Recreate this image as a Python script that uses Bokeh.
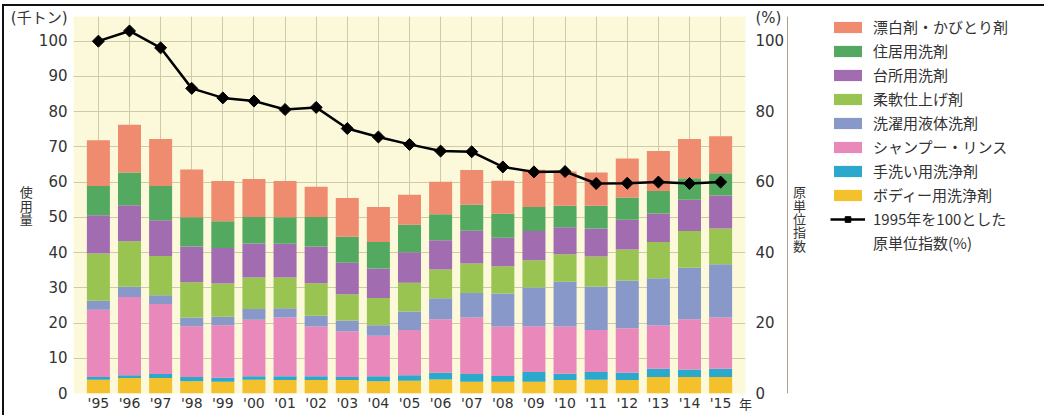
from bokeh.plotting import figure
from bokeh.models import (FactorRange, Range1d, LinearAxis, Legend, LegendItem, Label,
                          FixedTicker, ColumnDataSource)
from bokeh.layouts import row
from bokeh.embed import file_html
from bokeh.resources import INLINE

# ---------------- data ----------------
years = ["'95", "'96", "'97", "'98", "'99", "'00", "'01", "'02", "'03", "'04", "'05",
         "'06", "'07", "'08", "'09", "'10", "'11", "'12", "'13", "'14", "'15"]

body_wash = [3.9, 4.4, 4.4, 3.5, 3.3, 3.9, 3.8, 3.8, 3.8, 3.5, 3.6,
             4.0, 3.3, 3.3, 3.3, 3.8, 3.9, 3.8, 4.7, 4.7, 4.7]
hand_wash = [0.8, 0.8, 1.1, 1.2, 1.2, 1.0, 1.1, 1.1, 0.9, 1.4, 1.6,
             1.9, 2.2, 1.7, 2.8, 1.8, 2.2, 2.1, 2.3, 2.1, 2.3]
shampoo = [19.1, 22.2, 19.9, 14.4, 14.9, 16.0, 16.7, 14.1, 13.0, 11.5, 12.8,
           15.2, 16.1, 14.0, 13.0, 13.4, 11.9, 12.6, 12.3, 14.3, 14.6]
liquid_laundry = [2.5, 2.9, 2.5, 2.5, 2.4, 3.1, 2.6, 3.1, 3.0, 3.0, 5.3,
                  5.9, 6.9, 9.4, 11.0, 12.7, 12.4, 13.6, 13.4, 14.6, 15.1]
softener = [13.4, 12.9, 11.1, 10.0, 9.4, 8.9, 8.7, 9.2, 7.5, 7.7, 8.1,
            8.2, 8.4, 7.7, 7.7, 7.8, 8.5, 8.8, 10.3, 10.4, 10.1]
kitchen = [10.9, 10.2, 10.2, 10.1, 10.1, 9.7, 9.6, 10.4, 8.9, 8.4, 8.7,
           8.3, 9.3, 8.1, 8.3, 7.7, 7.9, 8.4, 8.1, 8.9, 9.4]
household = [8.3, 9.3, 9.7, 8.3, 7.6, 7.5, 7.5, 8.4, 7.4, 7.5, 7.8,
             7.4, 7.4, 6.8, 6.8, 6.1, 6.5, 6.3, 6.4, 6.1, 6.3]
bleach = [13.0, 13.6, 13.3, 13.6, 11.4, 10.8, 10.3, 8.6, 11.0, 9.9, 8.5,
          9.2, 9.8, 9.4, 10.6, 9.7, 9.4, 11.1, 11.3, 11.1, 10.5]

unit_index = [100, 102.9, 98.1, 86.6, 83.9, 83.0, 80.6, 81.2, 75.2, 72.8, 70.7,
              68.8, 68.6, 64.3, 62.9, 63.0, 59.6, 59.7, 60.0, 59.6, 60.0]

series_names = ["ボディー用洗浄剤", "手洗い用洗浄剤", "シャンプー・リンス", "洗濯用液体洗剤",
                "柔軟仕上げ剤", "台所用洗剤", "住居用洗剤", "漂白剤・かびとり剤"]
line_name_1 = "1995年を100とした"
line_name_2 = "原単位指数(%)"

left_ticks = [0, 10, 20, 30, 40, 50, 60, 70, 80, 90, 100]
right_ticks = [0, 20, 40, 60, 80, 100]
left_unit = "(千トン)"
right_unit = "(%)"
year_unit = "年"
left_title = "使\n用\n量"
right_title = "原\n単\n位\n指\n数"

# ---------------- styling ----------------
colors = ["#F4C12C", "#2BA9CC", "#E888BB", "#8898C8",
          "#99C452", "#A16CB0", "#53A95F", "#EF8B6F"]
keys = ["body", "hand", "shampoo", "liquid", "soft", "kitchen", "house", "bleach"]
FONT_NUM = "DejaVu Sans"
FONT_MIX = "DejaVu Sans, Noto Sans CJK JP"
FONT_JP = "Noto Sans CJK JP"
TXT = "#333333"
GRID = "#CFCAA8"
UNIT_POS = 106.6   # vertical position of the unit captions (axis units)
H = 409

src = ColumnDataSource(dict(year=years, body=body_wash, hand=hand_wash, shampoo=shampoo,
                            liquid=liquid_laundry, soft=softener, kitchen=kitchen,
                            house=household, bleach=bleach, idx=unit_index))

# ================= main chart =================
p = figure(x_range=FactorRange(factors=years, range_padding=0.3, range_padding_units="absolute"),
           y_range=Range1d(0, 107),
           width=783, height=H,
           min_border_left=69, min_border_right=40, min_border_top=10, min_border_bottom=22,
           output_backend="svg", toolbar_location=None,
           background_fill_color="#FCF9DB", border_fill_color="white",
           outline_line_color=None)

p.extra_y_ranges = {"idx": Range1d(0, 107)}

bars = p.vbar_stack(keys, x="year", width=0.74, color=colors, line_color=None, source=src)
ln = p.line("year", "idx", y_range_name="idx", source=src, line_color="black", line_width=2.5)
mk = p.scatter("year", "idx", y_range_name="idx", source=src, marker="square", angle=0.785,
               size=8.5, fill_color="black", line_color="black")

# axes (unit captions are extra labelled ticks above the top gridline)
p.yaxis.ticker = FixedTicker(ticks=left_ticks + [UNIT_POS])
p.yaxis.major_label_overrides = {UNIT_POS: left_unit}
p.ygrid.ticker = FixedTicker(ticks=left_ticks)
ax_r = LinearAxis(y_range_name="idx", ticker=FixedTicker(ticks=right_ticks + [UNIT_POS]),
                  major_label_overrides={UNIT_POS: right_unit})
p.add_layout(ax_r, "right")

for ax in [p.xaxis[0], p.yaxis[0], ax_r]:
    ax.axis_line_color = None
    ax.major_tick_line_color = None
    ax.minor_tick_line_color = None
    ax.major_tick_out = 0
    ax.major_tick_in = 0
    ax.minor_tick_out = 0
    ax.major_label_text_font = FONT_NUM
    ax.major_label_text_font_size = "15px"
    ax.major_label_text_color = TXT
    ax.axis_label_text_font = FONT_JP
    ax.axis_label_text_font_style = "normal"
    ax.axis_label_text_color = TXT
    ax.axis_label_text_font_size = "13px"
    ax.axis_label_text_line_height = 0.7
p.yaxis[0].major_label_text_font = FONT_MIX
p.yaxis[0].major_label_standoff = 6
ax_r.major_label_standoff = 10
p.xaxis[0].major_label_standoff = 1
p.xaxis[0].major_label_text_font_size = "14px"

p.yaxis[0].axis_label = left_title
p.yaxis[0].axis_label_orientation = "horizontal"
p.yaxis[0].axis_label_standoff = -25

p.xaxis[0].axis_label = year_unit
p.xaxis[0].axis_label_standoff = -20
p.xaxis[0].axis_label_align = "end"

p.xgrid.grid_line_color = GRID
p.ygrid.grid_line_color = GRID
p.xgrid.grid_line_width = 1
p.ygrid.grid_line_width = 1

# ================= legend panel (own figure, so nothing is clipped) =================
lf = figure(width=1040 - 783, height=H, x_range=Range1d(0, 1), y_range=Range1d(0, 1),
            x_axis_location=None, y_axis_location=None,
            min_border_left=0, min_border_right=0, min_border_top=0, min_border_bottom=0,
            output_backend="svg", toolbar_location=None,
            background_fill_color="white", border_fill_color="white", outline_line_color=None)
lf.grid.visible = False

# legend-key carriers: one point each, placed outside the visible range of this panel
OFF = [-10]
sw = [lf.vbar(x=OFF, top=[1], width=0.5, color=c, line_color=None) for c in colors]
lg_line = lf.line(x=[-10, -9], y=[0, 0], line_color="black", line_width=2.5)
lg_mark = lf.scatter(x=OFF, y=[0], marker="square", angle=0.785, size=8.5,
                     fill_color="black", line_color="black")
lg_ghost = lf.line(x=[-10, -9], y=[0, 0], line_alpha=0)

items = [LegendItem(label=series_names[i], renderers=[sw[i]]) for i in range(7, -1, -1)]
items.append(LegendItem(label=line_name_1, renderers=[lg_line, lg_mark]))
items.append(LegendItem(label=line_name_2, renderers=[lg_ghost]))
legend = Legend(items=items, location=(43, 140), orientation="vertical",
                label_text_font=FONT_JP, label_text_font_size="15px", label_text_color=TXT,
                glyph_width=35, glyph_height=14, label_standoff=8, spacing=3,
                padding=0, margin=0, border_line_color=None, background_fill_alpha=0)
lf.add_layout(legend, "center")

# right axis title, drawn beside the right tick labels
lf.add_layout(Label(x=12, y=175, x_units="screen", y_units="screen", text=right_title,
                    text_font=FONT_JP, text_font_size="13px", text_color=TXT,
                    text_align="center", text_baseline="middle", text_line_height=0.7))

layout = row(p, lf, styles={"border-top": "2px solid #111", "border-left": "2px solid #111",
                            "margin-top": "4px", "margin-left": "2px"})

open("out.html", "w").write(file_html(layout, INLINE))
